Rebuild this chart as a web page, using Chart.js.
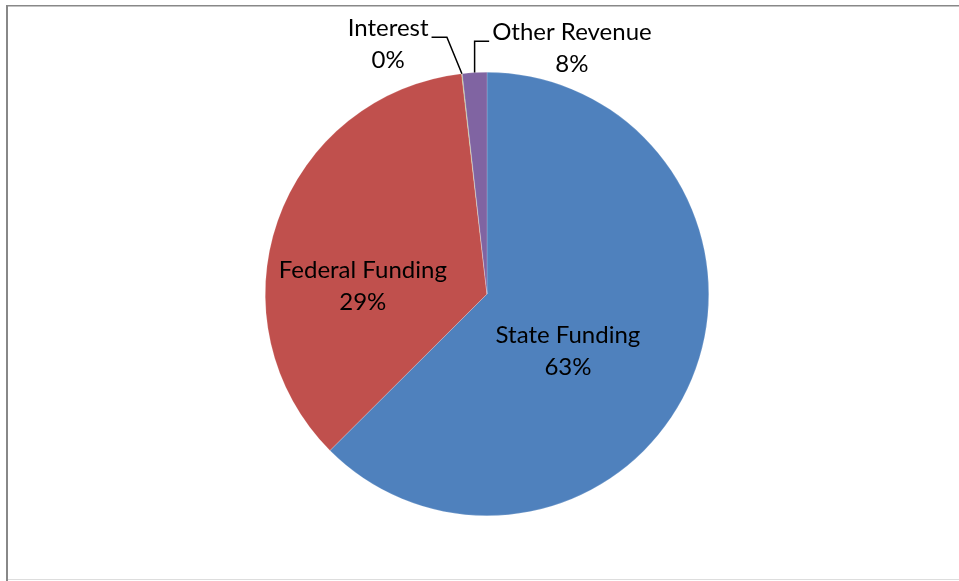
<!DOCTYPE html>
<html>
<head>
<meta charset="utf-8">
<script src="https://cdn.jsdelivr.net/npm/chart.js@4/dist/chart.umd.min.js"></script>
<style>
  html, body { margin: 0; padding: 0; background: #fff; }
  #wrap { width: 959px; height: 581px; position: relative; }
</style>
</head>
<body>
<div id="wrap"><canvas id="pie"></canvas></div>
<script>
// slice sizes (percent of the circle)
const categories = ['State Funding', 'Federal Funding', 'Interest', 'Other Revenue'];
const shares = [62.55, 35.66, 0.05, 1.78];
// the percent texts as printed on the chart
const pctLabels = ['63%', '29%', '0%', '8%'];
const sliceColors = ['#4F81BD', '#C0504D', '#9BBB59', '#8064A2'];

// label placement, in fractions of the radius from the pie centre
const labelSpots = [
  { fx: 0.365, fy: 0.26 },
  { fx: -0.56, fy: -0.036 },
  { fx: -0.446, fy: -1.126, leader: 'right' },
  { fx: 0.383, fy: -1.108, leader: 'left' }
];

const FONT = '24px Lato';
const LINE_H = 32;

const framePlugin = {
  id: 'frame',
  beforeDraw(chart) {
    const ctx = chart.ctx;
    ctx.save();
    ctx.fillStyle = '#888';
    ctx.fillRect(6, 5, chart.width - 6, 1.5);
    ctx.fillRect(6, 5, 2, chart.height - 5);
    ctx.fillStyle = '#ddd';
    ctx.fillRect(8, chart.height - 2, chart.width - 8, 1);
    ctx.restore();
  }
};

const labelPlugin = {
  id: 'sliceLabels',
  afterDatasetsDraw(chart) {
    const ctx = chart.ctx;
    const arcs = chart.getDatasetMeta(0).data;
    ctx.save();
    ctx.font = FONT;
    ctx.fillStyle = '#000';
    ctx.textAlign = 'center';
    ctx.textBaseline = 'middle';
    arcs.forEach((arc, i) => {
      const { x, y, outerRadius: r, startAngle, endAngle } = arc.getProps(['x', 'y', 'outerRadius', 'startAngle', 'endAngle'], true);
      const spot = labelSpots[i];
      const lx = x + spot.fx * r;
      const ly = y + spot.fy * r;
      ctx.fillText(categories[i], lx, ly - LINE_H / 2);
      ctx.fillText(pctLabels[i], lx, ly + LINE_H / 2);
      if (spot.leader) {
        const mid = (startAngle + endAngle) / 2;
        const ax = x + Math.cos(mid) * r;
        const ay = y + Math.sin(mid) * r;
        const half = ctx.measureText(categories[i]).width / 2;
        const ey = ly - LINE_H / 2 + 9;
        ctx.strokeStyle = '#000';
        ctx.lineWidth = 1.5;
        ctx.beginPath();
        if (spot.leader === 'right') {
          ctx.moveTo(lx + half + 3, ey);
          ctx.lineTo(ax - 15, ey);
        } else {
          ctx.moveTo(lx - half - 3, ey);
          ctx.lineTo(ax, ey);
        }
        ctx.lineTo(ax, ay);
        ctx.stroke();
      }
    });
    ctx.restore();
  }
};

new Chart(document.getElementById('pie'), {
  type: 'pie',
  data: {
    labels: categories,
    datasets: [{
      data: shares,
      backgroundColor: sliceColors,
      borderColor: 'rgba(255,255,255,0.35)',
      borderWidth: 0.5
    }]
  },
  options: {
    responsive: true,
    maintainAspectRatio: false,
    animation: false,
    layout: { padding: { top: 72, bottom: 65, left: 15, right: 0 } },
    plugins: {
      legend: { display: false },
      tooltip: { enabled: false }
    }
  },
  plugins: [framePlugin, labelPlugin]
});
</script>
</body>
</html>
